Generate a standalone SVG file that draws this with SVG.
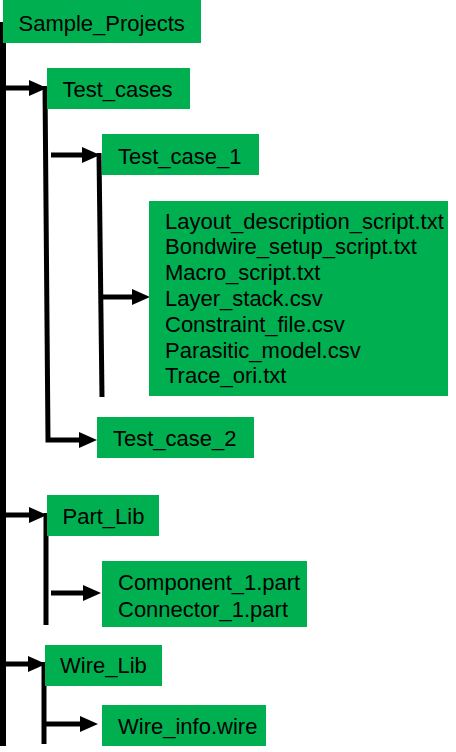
<svg xmlns="http://www.w3.org/2000/svg" width="456" height="752" viewBox="0 0 456 752">
<style>
.box{fill:#00B050}
text{font-family:"Liberation Sans",Arial,sans-serif;font-size:22px;fill:#000}
.ln{fill:none;stroke:#000;stroke-width:5;stroke-linejoin:miter}
.main{fill:none;stroke:#000;stroke-width:6}
</style>
<defs>
<marker id="ah" markerUnits="userSpaceOnUse" viewBox="0 0 18 16" refX="0" refY="8" markerWidth="18" markerHeight="16" orient="auto">
<path d="M0,0 L18,8 L0,16 Z" fill="#000"/>
</marker>
</defs>
<rect width="456" height="752" fill="#fff"/>
<g id="connectors">
<path class="main" d="M3,22 V746"/>
<path class="ln" d="M3,88 H29" marker-end="url(#ah)"/>
<path class="ln" d="M45,86 L48,440 H79" marker-end="url(#ah)"/>
<path class="ln" d="M51,155 H82" marker-end="url(#ah)"/>
<path class="ln" d="M99,153 L102,397"/>
<path class="ln" d="M102,297 H132" marker-end="url(#ah)"/>
<path class="ln" d="M3,515 H29" marker-end="url(#ah)"/>
<path class="ln" d="M46,513 V625"/>
<path class="ln" d="M51,593 H83" marker-end="url(#ah)"/>
<path class="ln" d="M3,664 H28" marker-end="url(#ah)"/>
<path class="ln" d="M44,662 V744"/>
<path class="ln" d="M44,724 H80" marker-end="url(#ah)"/>
</g>
<g id="sample_projects">
<rect class="box" x="3" y="0" width="198" height="43"/>
<text x="18.5" y="30.5">Sample_Projects</text>
</g>
<g id="test_cases">
<rect class="box" x="47" y="68" width="143" height="41"/>
<text x="62.5" y="97">Test_cases</text>
</g>
<g id="test_case_1">
<rect class="box" x="102" y="134" width="157" height="41"/>
<text x="118" y="164">Test_case_1</text>
</g>
<g id="test_case_1_files">
<rect class="box" x="149" y="201" width="299" height="195"/>
<text x="165" y="228.5">Layout_description_script.txt</text>
<text x="165" y="254.3">Bondwire_setup_script.txt</text>
<text x="165" y="280.1">Macro_script.txt</text>
<text x="165" y="305.9">Layer_stack.csv</text>
<text x="165" y="331.7">Constraint_file.csv</text>
<text x="165" y="357.5">Parasitic_model.csv</text>
<text x="165" y="383.3">Trace_ori.txt</text>
</g>
<g id="test_case_2">
<rect class="box" x="97" y="417" width="157" height="41"/>
<text x="113" y="446">Test_case_2</text>
</g>
<g id="part_lib">
<rect class="box" x="47" y="495" width="112" height="41"/>
<text x="62.5" y="524">Part_Lib</text>
</g>
<g id="part_lib_files">
<rect class="box" x="102" y="561" width="205" height="66"/>
<text x="118" y="590">Component_1.part</text>
<text x="118" y="616.5">Connector_1.part</text>
</g>
<g id="wire_lib">
<rect class="box" x="45" y="645" width="117" height="41"/>
<text x="60" y="673">Wire_Lib</text>
</g>
<g id="wire_info">
<rect class="box" x="102" y="705" width="164" height="41"/>
<text x="118" y="734">Wire_info.wire</text>
</g>
</svg>
